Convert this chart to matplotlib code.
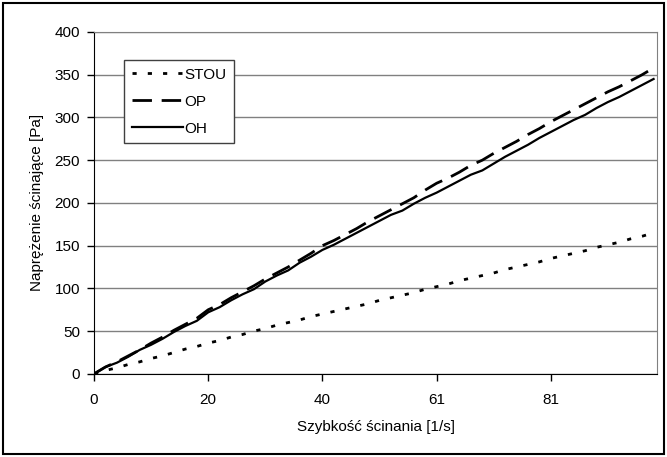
import numpy as np
import matplotlib.pyplot as plt
from matplotlib.patches import Rectangle

plt.rcParams['font.family'] = ['Liberation Sans', 'DejaVu Sans']

# category axis (Excel style): one point per measured shear rate
tick_pos = [0, 10, 20, 30, 40]
tick_labels = ['0', '20', '40', '61', '81']

stou = [0, 4, 7, 11, 14, 18, 21, 25, 29, 32,
        36, 39, 43, 46, 50, 53, 57, 60, 63, 67,
        70, 73, 76, 79, 82, 86, 89, 92, 95, 99,
        102, 105, 109, 112, 115, 118, 122, 125, 128, 131,
        135, 138, 141, 144, 148, 151, 154, 158, 161, 165]
op = [0, 8, 14, 21, 28, 36, 43, 51, 58, 65,
      75, 81, 89, 96, 103, 111, 118, 125, 133, 141,
      150, 156, 163, 170, 178, 185, 192, 199, 206, 215,
      223, 229, 236, 244, 250, 258, 265, 272, 280, 287,
      295, 302, 309, 316, 323, 330, 336, 343, 350, 358]
oh = [0, 8, 13, 20, 28, 34, 41, 49, 56, 62,
      72, 78, 86, 93, 99, 108, 115, 121, 130, 137,
      145, 151, 158, 165, 172, 179, 186, 191, 199, 206,
      212, 219, 226, 233, 238, 246, 254, 261, 268, 276,
      283, 290, 297, 303, 311, 318, 324, 331, 338, 345]

x = np.arange(len(oh))
fs = 11

fig = plt.figure(figsize=(6.67, 4.57), dpi=100)
ax = fig.add_axes([0.141, 0.182, 0.844, 0.748])

# outer chart border
fig.patches.append(Rectangle((0.005, 0.007), 0.99, 0.986, transform=fig.transFigure,
                             fill=False, edgecolor='black', linewidth=1.5))

ax.plot(x, stou, color='black', linewidth=2, linestyle=(0, (1.5, 4)), label='STOU')
ax.plot(x, op, color='black', linewidth=2, linestyle=(0, (7, 3.5)), label='OP')
ax.plot(x, oh, color='black', linewidth=1.6, linestyle='-', label='OH')

ax.set_xlim(0, 49.3)
ax.set_ylim(0, 400)
ax.set_yticks(np.arange(0, 401, 50))
ax.set_xticks(tick_pos)
ax.set_xticklabels(tick_labels)

ax.yaxis.grid(True, color='#808080', linewidth=1)
ax.set_axisbelow(True)

for side in ['top', 'right']:
    ax.spines[side].set_color('#808080')
for side in ['left', 'bottom']:
    ax.spines[side].set_color('black')

ax.tick_params(axis='y', direction='out', length=5, width=1, labelsize=fs, pad=5)
ax.tick_params(axis='x', direction='out', length=5, width=1, labelsize=fs, pad=9)

ax.set_xlabel('Szybkość ścinania [1/s]', fontsize=fs, labelpad=9)
ax.set_ylabel('Naprężenie ścinające [Pa]', fontsize=fs, labelpad=8)

leg = ax.legend(loc='upper left', bbox_to_anchor=(0.054, 0.918), fontsize=fs,
                handlelength=3.3, handletextpad=0.1, borderpad=0.5, labelspacing=0.85,
                borderaxespad=0, fancybox=False, framealpha=1, edgecolor='#404040')
leg.get_frame().set_linewidth(1)

fig.savefig('out.png', dpi=100)
